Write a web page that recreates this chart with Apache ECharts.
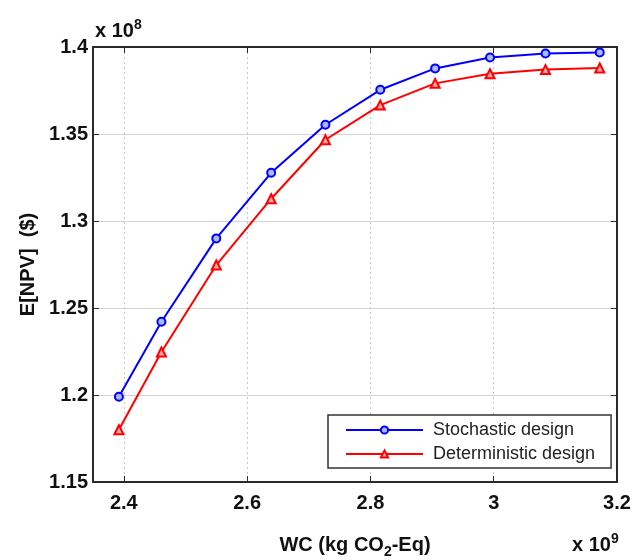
<!DOCTYPE html>
<html>
<head>
<meta charset="utf-8">
<script src="https://cdn.jsdelivr.net/npm/echarts@6/dist/echarts.min.js"></script>
<style>
  html, body { margin: 0; padding: 0; background: #fff; }
  #chart { width: 637px; height: 560px; }
</style>
</head>
<body>
<div id="chart"></div>
<script>
// Weighted carbon (x 10^9 kg CO2-Eq) for each design point
const wcValues = [2.392, 2.461, 2.550, 2.639, 2.727, 2.816, 2.905, 2.994, 3.084, 3.172];
// Expected NPV (x 10^8 $)
const npvStochastic = [1.199, 1.2421, 1.290, 1.3277, 1.3553, 1.3754, 1.3877, 1.3940, 1.3963, 1.3969];
const npvDeterministic = [1.180, 1.2247, 1.2747, 1.3128, 1.3467, 1.3666, 1.3791, 1.3846, 1.3870, 1.3879];
// Tick positions
const xTicks = [2.4, 2.6, 2.8, 3.0, 3.2];
const yTicks = [1.15, 1.2, 1.25, 1.3, 1.35, 1.4];
const seriesNames = ['Stochastic design', 'Deterministic design'];

const FONT = '"Liberation Sans", Arial, Helvetica, sans-serif';
const frameColor = '#2a2a2a';

const pairs = (ys) => wcValues.map((x, i) => [x, ys[i]]);

const chart = echarts.init(document.getElementById('chart'), null, { renderer: 'canvas' });

const tickLabelStyle = {
  fontFamily: FONT, fontSize: 20, fontWeight: 'bold', color: '#111'
};

chart.setOption({
  animation: false,
  backgroundColor: '#fff',
  grid: { left: 93, right: 20, top: 47, bottom: 78, containLabel: false, outerBoundsMode: 'none' },
  xAxis: [{
    type: 'value', min: 2.35, max: 3.2,
    name: 'WC (kg CO{sub|2}-Eq)',
    nameLocation: 'middle', nameGap: 49,
    nameTextStyle: {
      fontFamily: FONT, fontSize: 20, fontWeight: 'bold', color: '#111',
      rich: { sub: { fontFamily: FONT, fontSize: 14, fontWeight: 'bold', color: '#111', padding: [14, 0, 0, 0] } }
    },
    axisLine: { show: true, onZero: false, lineStyle: { color: frameColor, width: 2 } },
    axisTick: { show: true, inside: true, length: 6, customValues: xTicks, lineStyle: { color: frameColor, width: 1 } },
    axisLabel: { customValues: xTicks, margin: 11, ...tickLabelStyle, formatter: v => String(+v.toFixed(2)) },
    splitLine: { show: true, lineStyle: { color: '#c8c8c8', type: [2, 3], width: 1 } }
  }, {
    type: 'value', position: 'top', min: 2.35, max: 3.2,
    axisLine: { show: true, onZero: false, lineStyle: { color: frameColor, width: 2 } },
    axisTick: { show: true, inside: true, length: 6, customValues: xTicks, lineStyle: { color: frameColor, width: 1 } },
    axisLabel: { show: false },
    splitLine: { show: false }
  }],
  yAxis: [{
    type: 'value', min: 1.15, max: 1.4, interval: 0.05,
    name: 'E[NPV]  ($)',
    nameLocation: 'middle', nameGap: 55,
    nameTextStyle: { fontFamily: FONT, fontSize: 20, fontWeight: 'bold', color: '#111' },
    axisLine: { show: true, onZero: false, lineStyle: { color: frameColor, width: 2 } },
    axisTick: { show: true, inside: true, length: 6, lineStyle: { color: frameColor, width: 1 } },
    axisLabel: { margin: 5, ...tickLabelStyle, formatter: v => String(+v.toFixed(2)) },
    splitLine: { show: true, lineStyle: { color: '#d4d4d4', width: 1 } }
  }, {
    type: 'value', position: 'right', min: 1.15, max: 1.4, interval: 0.05,
    axisLine: { show: true, onZero: false, lineStyle: { color: frameColor, width: 2 } },
    axisTick: { show: true, inside: true, length: 6, lineStyle: { color: frameColor, width: 1 } },
    axisLabel: { show: false },
    splitLine: { show: false }
  }],
  legend: {
    orient: 'vertical', left: 328, top: 415,
    padding: [6, 16, 5, 17], itemGap: 6,
    itemWidth: 77, itemHeight: 9,
    backgroundColor: '#fff', borderColor: '#333', borderWidth: 1.5, borderRadius: 0,
    textStyle: { fontFamily: FONT, fontSize: 18, color: '#222', padding: [0, 0, 0, 5] },
    data: seriesNames
  },
  series: [{
    name: seriesNames[0], type: 'line', data: pairs(npvStochastic),
    symbol: 'circle', symbolSize: 8,
    lineStyle: { color: '#0000ff', width: 2 },
    itemStyle: { color: '#aab8ff', borderColor: '#0000ff', borderWidth: 2 },
    z: 3
  }, {
    name: seriesNames[1], type: 'line', data: pairs(npvDeterministic),
    symbol: 'triangle', symbolSize: 9,
    lineStyle: { color: '#ff0000', width: 2 },
    itemStyle: { color: '#ffaaaa', borderColor: '#ff0000', borderWidth: 2 },
    z: 2
  }],
  graphic: [{
    type: 'text', left: 95, top: 18,
    style: {
      text: 'x 10{sup|8}', fontFamily: FONT, fontSize: 20, fontWeight: 'bold', fill: '#111',
      rich: { sup: { fontFamily: FONT, fontSize: 14, fontWeight: 'bold', fill: '#111', padding: [0, 0, 12, 0] } }
    }
  }, {
    type: 'text', left: 572, top: 532,
    style: {
      text: 'x 10{sup|9}', fontFamily: FONT, fontSize: 20, fontWeight: 'bold', fill: '#111',
      rich: { sup: { fontFamily: FONT, fontSize: 14, fontWeight: 'bold', fill: '#111', padding: [0, 0, 12, 0] } }
    }
  }]
});
</script>
</body>
</html>
